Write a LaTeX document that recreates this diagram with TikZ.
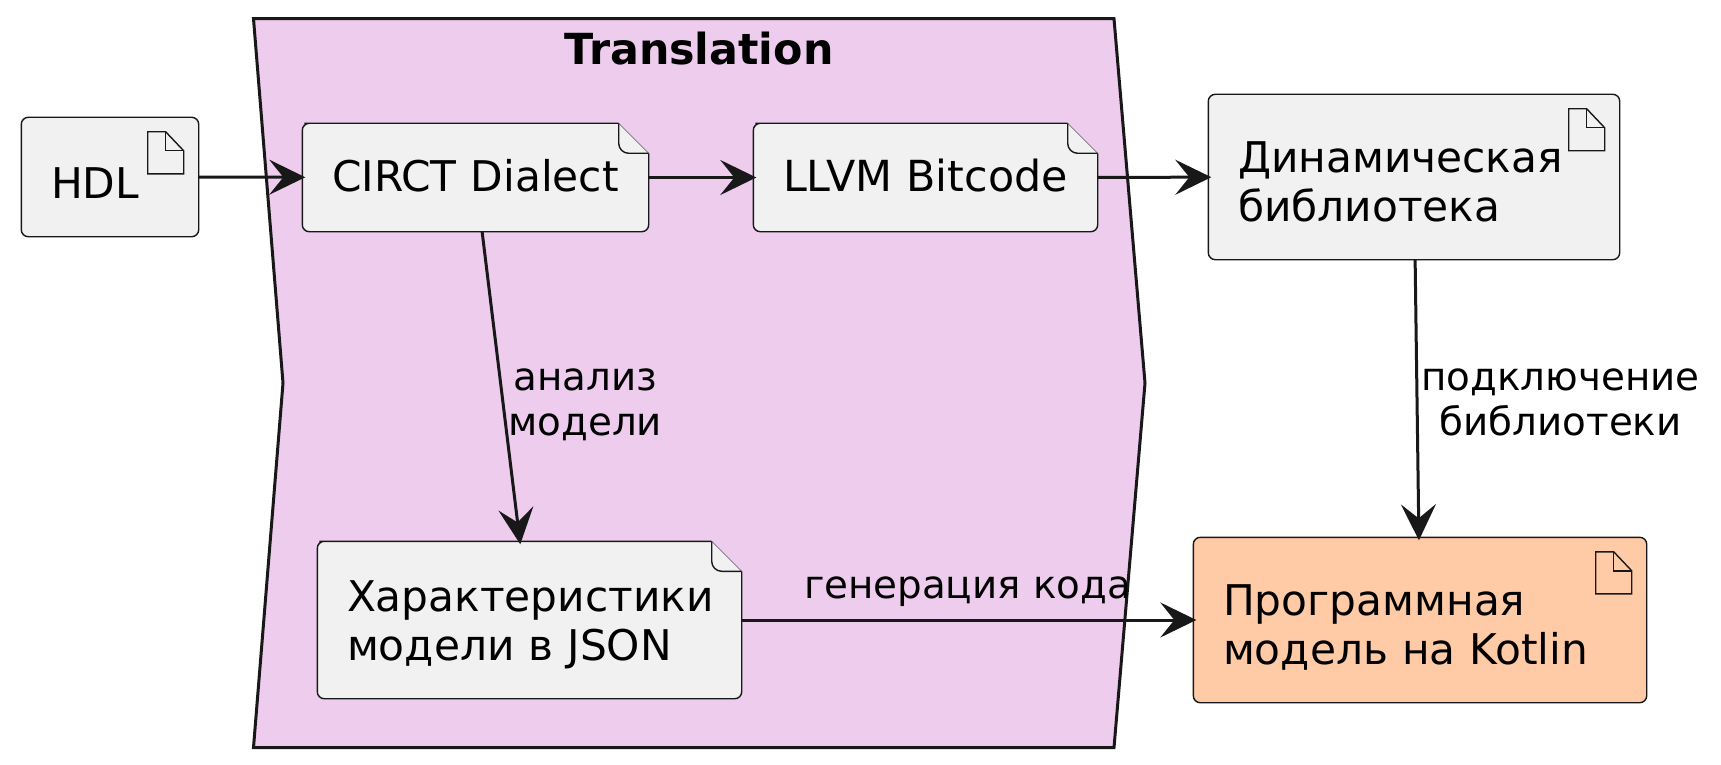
\documentclass[tikz,border=0pt]{standalone}
\usepackage{fontspec}
\setmainfont{DejaVu Sans}
\usetikzlibrary{arrows.meta,backgrounds}
\definecolor{cInk}{HTML}{181818}
\definecolor{cBox}{HTML}{F1F1F1}
\definecolor{cPink}{HTML}{EECCEE}
\definecolor{cPeach}{HTML}{FFCBA6}
\tikzset{
  >={Stealth[length=36pt,width=35pt,inset=14pt]},
  docbox/.style  ={inner xsep=0pt,inner ysep=0pt,align=left,text=black,
                   font=\fontsize{42.3}{49.4}\selectfont},
  boxline/.style ={draw=cInk,line width=1.4pt},
  ar/.style      ={->,cInk,line width=3pt,shorten >=-3pt},
  lbl/.style     ={font=\fontsize{38.8}{45}\selectfont,align=center,inner sep=0pt,text=black},
}
% outline of a note with turned corner: name, fold size
\newcommand{\notebox}[2]{%
  \fill[cBox] ([xshift=-#2]#1.north east) -- ([yshift=-#2]#1.north east)
    -- ([yshift=-#2-9pt]#1.north east) [rounded corners=7pt] -- (#1.south east) -- (#1.south west)
    -- (#1.north west) -- ([xshift=9pt]#1.north west) [sharp corners] -- cycle;
  \draw[boxline] ([yshift=-#2]#1.north east)
    -- ([yshift=-#2-9pt]#1.north east) [rounded corners=7pt] -- (#1.south east) -- (#1.south west)
    -- (#1.north west) -- ([xshift=9pt]#1.north west) [sharp corners] -- ([xshift=-#2]#1.north east);
  \draw[cInk!60,line width=0.7pt] ([xshift=-#2]#1.north east) -- ([yshift=-#2]#1.north east);
  \draw[boxline,rounded corners=10pt] ([xshift=-#2]#1.north east)
    -- ([xshift=-#2,yshift=-#2]#1.north east) -- ([yshift=-#2]#1.north east);
}
% outline of an artifact with its small page icon: name, fill
\newcommand{\pagebox}[2]{%
  \draw[boxline,fill=#2,rounded corners=7pt] (#1.north west) rectangle (#1.south east);
  \draw[boxline] ([shift={(-51pt,-14.5pt)}]#1.north east) -- ([shift={(-33pt,-14.5pt)}]#1.north east)
    -- ([shift={(-15pt,-33.5pt)}]#1.north east) -- ([shift={(-15pt,-56.5pt)}]#1.north east)
    -- ([shift={(-51pt,-56.5pt)}]#1.north east) -- cycle;
  \draw[boxline] ([shift={(-33pt,-14.5pt)}]#1.north east) -- ([shift={(-33pt,-33.5pt)}]#1.north east)
    -- ([shift={(-15pt,-33.5pt)}]#1.north east);
}
\begin{document}
\begin{tikzpicture}[x=1pt,y=-1pt]
\useasboundingbox (0,0) rectangle (1721,765);
\node[docbox,minimum width=177pt,minimum height=119pt,text width=118pt,text height=43pt,text depth=0pt] (hdl) at (110,177) {HDL};
\node[docbox,minimum width=346pt,minimum height=108pt,text width=287pt,text height=28pt,text depth=0pt] (circt) at (475.5,177.5) {\mbox{CIRCT Dialect}};
\node[docbox,minimum width=344pt,minimum height=108pt,text width=285pt,text height=28pt,text depth=0pt,font=\fontsize{42.8}{49.4}\selectfont] (llvm) at (925.5,177.5) {\mbox{LLVM Bitcode}};
\node[docbox,minimum width=411pt,minimum height=165pt,text width=352pt,text height=0pt,text depth=10pt] (dyn) at (1414,177) {Динамическая\\библиотека};
\node[docbox,minimum width=424pt,minimum height=157pt,text width=365pt,text height=0pt,text depth=17pt] (json) at (529.5,620) {Характеристики\\модели в JSON};
\node[docbox,minimum width=453pt,minimum height=165pt,text width=394pt,text height=0pt,text depth=9pt] (kotlin) at (1420,620) {Программная\\модель на Kotlin};
\node[font=\fontsize{42.8}{50}\selectfont\bfseries,text=black,inner sep=0pt] (title) at (699,49) {Translation};
\begin{scope}[on background layer]
\draw[fill=cPink,draw=cInk,line width=3pt] (253.5,18.7) -- (1114,18.7) -- (1145,383) -- (1114,747.5)
  -- (253.5,747.5) -- (283,383) -- cycle;
\pagebox{hdl}{cBox}
\notebox{circt}{30pt}
\notebox{llvm}{30pt}
\pagebox{dyn}{cBox}
\notebox{json}{30pt}
\pagebox{kotlin}{cPeach}
\end{scope}
\draw[ar] (hdl)--(circt);
\draw[ar] (circt)--(llvm);
\draw[ar] (llvm)--(dyn);
\draw[ar] (circt)--(json) node[lbl,midway,right,xshift=6pt,yshift=-18pt] (lblan) {анализ\\модели};
\draw[ar] (dyn)--(kotlin) node[lbl,midway,right,xshift=3pt,yshift=-4pt] (lblpod) {подключение\\библиотеки};
\draw[ar] (json)--(kotlin) node[lbl,midway,above,yshift=12pt] (lblgen) {генерация кода};
\end{tikzpicture}
\end{document}
